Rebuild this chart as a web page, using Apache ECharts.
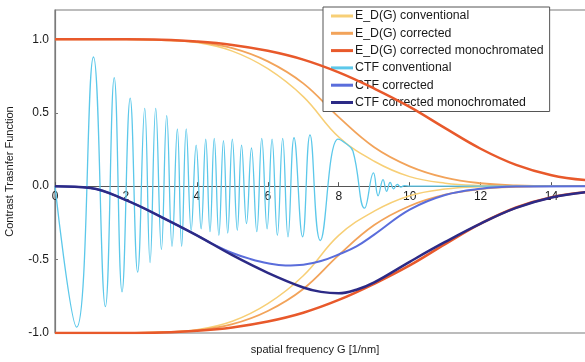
<!DOCTYPE html>
<html>
<head>
<meta charset="utf-8">
<script src="https://cdn.jsdelivr.net/npm/echarts@6/dist/echarts.min.js"></script>
<style>
  html, body { margin: 0; padding: 0; background: #fff; }
  #chart { width: 585px; height: 362px; }
</style>
</head>
<body>
<div id="chart"></div>
<script>
// envelopes E_D(G) (lower half is the mirror)
const envG = [0, 1, 2, 3, 4, 5, 6, 7, 8, 9, 10, 11, 12, 13, 14, 15];
const envConventional = [1, 1, 1, 0.995, 0.978, 0.92, 0.8, 0.61, 0.335, 0.17, 0.065, 0.02, 0.004, 0, 0, 0];
const envCorrected = [1, 1, 1, 0.995, 0.982, 0.94, 0.85, 0.7, 0.47, 0.265, 0.135, 0.058, 0.02, 0.005, 0, 0];
const envMono = [1, 1, 1, 0.997, 0.985, 0.962, 0.922, 0.862, 0.775, 0.665, 0.54, 0.395, 0.255, 0.145, 0.075, 0.04];

// CTF conventional: peaks and troughs
const ctfConvG = [0, 0.61, 1.085, 1.42, 1.67, 1.89, 2.12, 2.33, 2.53, 2.68, 2.84, 3.0, 3.15, 3.3, 3.45, 3.57,
  3.7, 3.84, 3.98, 4.12, 4.25, 4.37, 4.49, 4.62, 4.75, 4.87, 5.0, 5.14, 5.26, 5.4, 5.54, 5.69, 5.83, 5.98,
  6.12, 6.27, 6.42, 6.57, 6.74, 6.98, 7.19, 7.48, 7.98, 8.2, 8.4, 8.73, 8.98, 9.11, 9.25, 9.35, 9.45, 9.55,
  9.65, 9.75, 9.85, 10, 15];
const ctfConvV = [0, -0.96, 0.88, -0.82, 0.74, -0.72, 0.6, -0.585, 0.53, -0.52, 0.53, -0.43, 0.48, -0.41, 0.39, -0.41,
  0.39, -0.3, 0.28, -0.29, 0.32, -0.31, 0.325, -0.335, 0.31, -0.32, 0.32, -0.3, 0.28, -0.255, 0.26, -0.31, 0.325, -0.29,
  0.32, -0.335, 0.325, -0.345, 0.33, -0.345, 0.35, -0.37, 0.32, 0.29, 0.24, -0.15, 0.09, -0.065, 0.045, -0.035, 0.025, -0.018,
  0.012, -0.006, 0.004, 0, 0];

const ctfCorrG = [0, 1, 2, 3, 4, 4.5, 5, 5.5, 6, 6.5, 7, 7.5, 8, 8.5, 9, 10, 11, 12, 13, 15];
const ctfCorrV = [0, -0.012, -0.095, -0.21, -0.335, -0.4, -0.455, -0.495, -0.525, -0.54, -0.535, -0.51, -0.465, -0.41, -0.33, -0.16, -0.06, -0.018, -0.003, 0];

const ctfMonoG = [0, 1, 2, 3, 4, 5, 6, 7, 7.5, 8, 8.5, 9, 10, 11, 12, 13, 14, 15];
const ctfMonoV = [0, -0.012, -0.095, -0.21, -0.335, -0.47, -0.59, -0.69, -0.72, -0.73, -0.705, -0.655, -0.515, -0.38, -0.255, -0.148, -0.077, -0.04];

const xTicks = [0, 2, 4, 6, 8, 10, 12, 14];
const names = ['E_D(G) conventional', 'E_D(G) corrected', 'E_D(G) corrected monochromated',
  'CTF conventional', 'CTF corrected', 'CTF corrected monochromated'];
const colors = ['#f7cf76', '#f2a35a', '#e8592b', '#5cc8ea', '#5a6ddb', '#2c2a86'];

const pairs = (xs, ys) => xs.map((x, i) => [x, ys[i]]);
const neg = ys => ys.map(v => -v);

function line(idx, xs, ys, width, smooth) {
  return {
    name: names[idx],
    type: 'line',
    data: pairs(xs, ys),
    smooth: smooth,
    symbol: 'none',
    lineStyle: { color: colors[idx], width: width },
    itemStyle: { color: colors[idx] },
    z: 2 + idx
  };
}

const font = 'Liberation Sans, Arial, sans-serif';
// plot is 323px tall over [-1, 1.2]; the x axis sits on y = 0
const yMin = -1, yMax = 1.2, plotH = 323;
const zeroOffset = -plotH * (0 - yMin) / (yMax - yMin);

const chart = echarts.init(document.getElementById('chart'));
chart.setOption({
  animation: false,
  textStyle: { fontFamily: font },
  grid: {
    left: 55, top: 10, right: -2, bottom: 29,
    outerBoundsMode: 'none', containLabel: false,
    show: true, borderColor: '#7a7a7a', borderWidth: 1.2
  },
  legend: {
    data: names,
    orient: 'vertical',
    left: 323, top: 7,
    icon: 'rect',
    itemWidth: 22, itemHeight: 3, itemGap: 5.3,
    padding: [3, 6, 3, 8],
    backgroundColor: '#fff',
    borderColor: '#555', borderWidth: 1,
    textStyle: { fontSize: 12.3, color: '#1a1a1a', fontFamily: font, padding: [0, 0, 0, -3] }
  },
  xAxis: {
    type: 'value', min: 0, max: 15, interval: 2,
    offset: zeroOffset,
    axisLine: { onZero: false, lineStyle: { color: '#555', width: 1 } },
    axisTick: { inside: true, length: 4, lineStyle: { color: '#555' } },
    axisLabel: {
      showMaxLabel: false, fontSize: 12, color: '#1a1a1a', margin: 5,
      formatter: v => (xTicks.includes(v) ? String(v) : '')
    },
    splitLine: { show: false }
  },
  yAxis: {
    type: 'value', min: yMin, max: yMax, interval: 0.5,
    name: 'Contrast Trasnfer Function', nameLocation: 'middle', nameGap: 40,
    nameTextStyle: { fontSize: 11, color: '#1a1a1a' },
    axisLine: { show: true, lineStyle: { color: '#7a7a7a', width: 1.2 } },
    axisTick: { show: true, inside: true, length: 3, lineStyle: { color: '#7a7a7a' } },
    axisLabel: {
      showMaxLabel: false, fontSize: 12, color: '#1a1a1a', margin: 6,
      formatter: v => (Math.abs(v) <= 1 ? v.toFixed(1) : '')
    },
    splitLine: { show: false }
  },
  graphic: [{
    type: 'text', x: 315, y: 350,
    style: { text: 'spatial frequency G [1/nm]', fontSize: 11, fontFamily: font, fill: '#1a1a1a',
      textAlign: 'center', textVerticalAlign: 'middle' }
  }],
  series: [
    line(0, envG, envConventional, 1.5, 0.4),
    line(0, envG, neg(envConventional), 1.5, 0.4),
    line(1, envG, envCorrected, 1.8, 0.4),
    line(1, envG, neg(envCorrected), 1.8, 0.4),
    line(2, envG, envMono, 2.5, 0.4),
    line(2, envG, neg(envMono), 2.5, 0.4),
    line(3, ctfConvG, ctfConvV, 1.3, 0.45),
    line(4, ctfCorrG, ctfCorrV, 2, 0.4),
    line(5, ctfMonoG, ctfMonoV, 2.5, 0.4)
  ]
});
</script>
</body>
</html>
